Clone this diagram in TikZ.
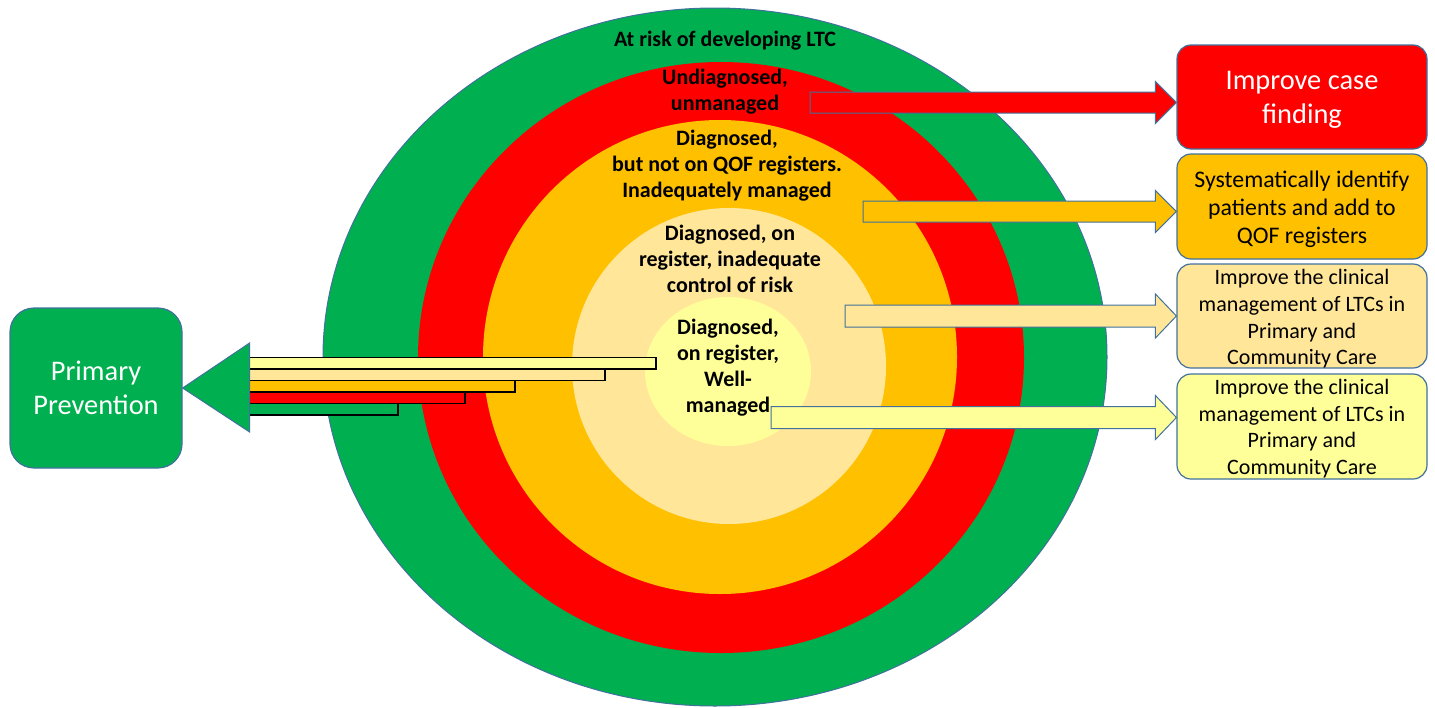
\documentclass[tikz,border=0pt]{standalone}
\usepackage{fontspec}
\setmainfont{Carlito}
\usetikzlibrary{calc}
\definecolor{ringgreen}{HTML}{00B050}
\definecolor{ringred}{HTML}{FF0000}
\definecolor{ringorange}{HTML}{FFC000}
\definecolor{ringpeach}{HTML}{FFE699}
\definecolor{ringyellow}{HTML}{FFFF99}
\definecolor{edgeblue}{HTML}{41719C}
\tikzset{
  ringlabel/.style={align=center, inner sep=0pt, font=\bfseries\fontsize{11}{13}\selectfont},
  actionbox/.style={draw=edgeblue, line width=0.6pt, rounded corners=7pt,
    minimum width=125pt, minimum height=52pt, inner sep=0pt},
  boxtext/.style={align=center, inner sep=0pt, yshift=-1.5pt},
  mgmttext/.style={boxtext, font=\fontsize{11}{13.3}\selectfont},
  blockarrow/.style={draw=edgeblue, line width=0.5pt},
  stackbar/.style={draw=black, line width=0.6pt},
}
% block arrow: start, target box, half shaft, fill
\newcommand\blockto[4]{%
  \coordinate (tip) at (#1 -| #2.west);
  \draw[blockarrow, fill=#4] ($(#1)+(0,-#3)$) -- ($(tip)+(-21,-#3)$) -- ($(tip)+(-21,-2*#3)$)
    -- (tip) -- ($(tip)+(-21,2*#3)$) -- ($(tip)+(-21,#3)$) -- ($(#1)+(0,#3)$) -- cycle;}
\begin{document}
\begin{tikzpicture}[x=0.5pt,y=-0.5pt]
    \useasboundingbox (0,0) rectangle (1435,707);
    \fill[ringgreen, draw=edgeblue, line width=0.5pt] (715,357) ellipse [x radius=392, y radius=349];
    \fill[ringred] (721,357.5) ellipse [x radius=303, y radius=295.5];
    \fill[ringorange] (720,357) ellipse [x radius=237, y radius=237];
    \fill[ringpeach] (729,366) ellipse [x radius=157, y radius=158];
    \fill[ringyellow] (728,371.5) ellipse [x radius=83, y radius=74.5];

    \node[ringlabel] (atrisk) at (725,41) {At risk of developing LTC};
    \node[ringlabel] (undiag) at (725,92) {Undiagnosed,\\unmanaged};
    \node[ringlabel] (noqof) at (727,166) {Diagnosed,\\but not on QOF registers.\\Inadequately managed};
    \node[ringlabel] (poorctrl) at (730,259) {Diagnosed, on\\register, inadequate\\control of risk};
    \node[ringlabel] (wellman) at (728,368) {Diagnosed,\\on register,\\Well-\\managed};

    \node[actionbox, fill=ringred] (casefind) at (1302,97) {};
    \node[boxtext, text=white, font=\fontsize{14.2}{17}\selectfont] (casefindtxt) at (casefind) {Improve case\\finding};
    \node[actionbox, fill=ringorange, minimum height=52.5pt] (qofadd) at (1302,206.5) {};
    \node[boxtext, font=\fontsize{11.9}{14}\selectfont] (qofaddtxt) at (qofadd) {Systematically identify\\patients and add to\\QOF registers};
    \node[actionbox, fill=ringpeach] (mgmtpeach) at (1302,316) {};
    \node[mgmttext] (mgmtpeachtxt) at (mgmtpeach) {Improve the clinical\\management of LTCs in\\Primary and\\Community Care};
    \node[actionbox, fill=ringyellow, minimum height=52.5pt] (mgmtyellow) at (1302,426.5) {};
    \node[mgmttext, yshift=0.5pt] (mgmtyellowtxt) at (mgmtyellow) {Improve the clinical\\management of LTCs in\\Primary and\\Community Care};
    \node[actionbox, fill=ringgreen, text=white, minimum width=86pt, minimum height=80pt, rounded corners=12pt,
      align=center, font=\fontsize{14.2}{17}\selectfont] (prevent) at (96,388) {Primary\\Prevention};

    \foreach \clr/\xend [count=\i from 0] in {ringyellow/656, ringpeach/605, ringorange/515, ringred/465, ringgreen/398}
        \draw[stackbar, fill=\clr] (249,357.5+11.5*\i) rectangle (\xend,369+11.5*\i);
    \draw[blockarrow, fill=ringgreen] (prevent.east) -- ++(67,-45) -- ++(0,89) -- cycle;

    \coordinate (fromred) at (810,102.5);
    \coordinate (fromorange) at (863,211.5);
    \coordinate (frompeach) at (845,316);
    \coordinate (fromyellow) at (771,417.5);
    \blockto{fromred}{casefind}{10.5}{ringred}
    \blockto{fromorange}{qofadd}{10.5}{ringorange}
    \blockto{frompeach}{mgmtpeach}{11}{ringpeach}
    \blockto{fromyellow}{mgmtyellow}{11}{ringyellow}
\end{tikzpicture}
\end{document}
